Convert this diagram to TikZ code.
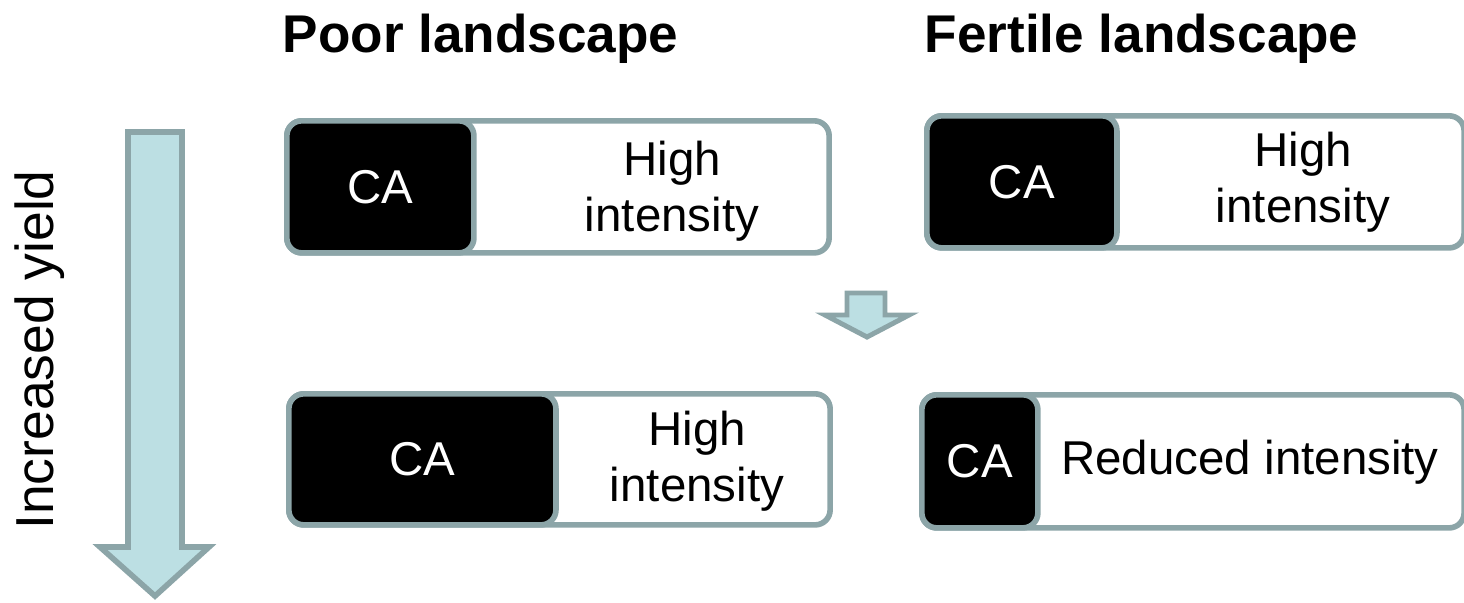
\documentclass[tikz,border=0pt]{standalone}
\usepackage{fontspec}
\setmainfont{Liberation Sans}
\definecolor{rim}{HTML}{8CA5A8}
\definecolor{pale}{HTML}{BCDFE3}
\begin{document}
\begin{tikzpicture}[x=0.01cm,y=-0.01cm]
  \useasboundingbox (0,0) rectangle (1464,602);
  % titles
  \begin{scope}[every node/.style={anchor=base west,inner sep=0pt,font=\fontsize{15.1}{18}\selectfont\bfseries}]
    \node (poor) at (282,52) {Poor landscape};
    \node (fertile) at (924,52) {Fertile landscape};
  \end{scope}
  % side arrow
  \draw[rim,fill=pale,line width=1.6pt] (128,132) -- (182,132) -- (182,547) -- (209,547)
    -- (155,596) -- (100,547) -- (128,547) -- cycle;
  \node[rotate=90,anchor=base,font=\fontsize{15.2}{18}\selectfont] (yield) at (53,350) {Increased yield};
  % small arrow
  \draw[rim,fill=pale,line width=1.4pt] (847,293) -- (885,293) -- (885,315) -- (909,315)
    -- (867,337) -- (825,315) -- (847,315) -- cycle;
  % boxes
  \begin{scope}[every node/.style={anchor=north west,draw=rim,line width=1.6pt,
      rounded corners=0.15cm,inner sep=0pt,minimum height=1.32cm}]
    \node[fill=white,minimum width=5.42cm] (pbox1) at (284,118) {};
    \node[fill=black,minimum width=1.87cm] (pca1) at (284,118) {};
    \node[fill=white,minimum width=5.37cm] (fbox1) at (924,113) {};
    \node[fill=black,minimum width=1.90cm] (fca1) at (924,113) {};
    \node[fill=white,minimum width=5.41cm,minimum height=1.31cm] (pbox2) at (286,391) {};
    \node[fill=black,minimum width=2.67cm,minimum height=1.31cm] (pca2) at (286,391) {};
    \node[fill=white,minimum width=5.42cm,minimum height=1.33cm] (fbox2) at (919,392) {};
    \node[fill=black,minimum width=1.16cm,minimum height=1.33cm] (fca2) at (919,392) {};
  \end{scope}
  % labels
  \begin{scope}[every node/.style={font=\fontsize{13.5}{16}\selectfont,align=center}]
    \node[white] (pca1t) at (pca1.center) {CA};
    \node[white] (fca1t) at (fca1.center) {CA};
    \node[white] (pca2t) at (pca2.center) {CA};
    \node[white] (fca2t) at (fca2.center) {CA};
    \node (pint1) at (672,191) {High\\intensity};
    \node (fint1) at (1303,182) {High\\intensity};
    \node (pint2) at (697,461) {High\\intensity};
    \node (fint2) at (1250,462) {Reduced intensity};
  \end{scope}
\end{tikzpicture}
\end{document}
